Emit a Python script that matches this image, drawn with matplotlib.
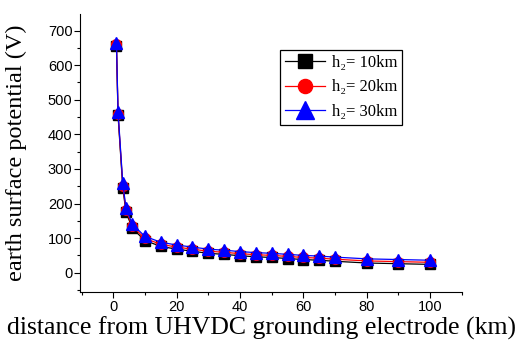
import matplotlib
matplotlib.use("Agg")
import matplotlib.pyplot as plt
from matplotlib.ticker import MultipleLocator

distance_km = [1, 1.5, 3, 4, 6, 10, 15, 20, 25, 30, 35, 40, 45, 50, 55, 60, 65, 70, 80, 90, 100]
pot_h10 = [655, 455, 245, 176, 128, 93, 76, 68, 62, 56, 53, 49, 46, 44, 41, 38, 36, 33, 28, 26, 24]
pot_h20 = [660, 460, 252, 182, 134, 99, 82, 74, 68, 62, 59, 55, 52, 50, 47, 44, 42, 39, 34, 32, 30]
pot_h30 = [665, 465, 258, 188, 140, 105, 88, 80, 74, 68, 65, 61, 58, 56, 53, 50, 48, 45, 40, 38, 36]
labels = ["h\u2082= 10km", "h\u2082= 20km", "h\u2082= 30km"]

fig = plt.figure(figsize=(5.23, 3.40), dpi=100)
ax = fig.add_axes([0.153, 0.141, 0.730, 0.818])

ax.plot(distance_km, pot_h10, color="black", marker="s", ms=6.5, lw=0.9, label=labels[0])
ax.plot(distance_km, pot_h20, color="red", marker="o", ms=7, lw=0.9, label=labels[1])
ax.plot(distance_km, pot_h30, color="blue", marker="^", ms=9, lw=0.9, label=labels[2])

ax.set_xlim(-10.5, 110)
ax.set_ylim(-56, 748)
ax.set_xticks([0, 20, 40, 60, 80, 100])
ax.set_yticks([0, 100, 200, 300, 400, 500, 600, 700])
ax.xaxis.set_minor_locator(MultipleLocator(10))
ax.yaxis.set_minor_locator(MultipleLocator(50))
ax.tick_params(which="major", direction="out", length=4, width=0.8, labelsize=10.5, pad=1.5)
ax.tick_params(which="minor", direction="out", length=2.5, width=0.8)
for lab in ax.get_xticklabels() + ax.get_yticklabels():
    lab.set_fontfamily("Liberation Sans")

for s in ["top", "right"]:
    ax.spines[s].set_visible(False)
for s in ["left", "bottom"]:
    ax.spines[s].set_linewidth(0.8)

fig.text(0.5, 0.0, "distance from UHVDC grounding electrode (km)", family="Liberation Serif",
         fontsize=18.5, ha="center", va="bottom")
fig.text(0.012, 0.55, "earth surface potential (V)", family="Liberation Serif",
         fontsize=17.5, ha="left", va="center", rotation=90)

leg = ax.legend(loc="upper left", bbox_to_anchor=(0.524, 0.87), prop={"family": "Liberation Serif", "size": 12},
                frameon=True, fancybox=False, edgecolor="black", framealpha=1, markerscale=1.45,
                handlelength=2.4, borderpad=0.3, labelspacing=0.5, handletextpad=0.4, borderaxespad=0)
leg.get_frame().set_linewidth(0.9)

fig.savefig("out.png", dpi=100)
